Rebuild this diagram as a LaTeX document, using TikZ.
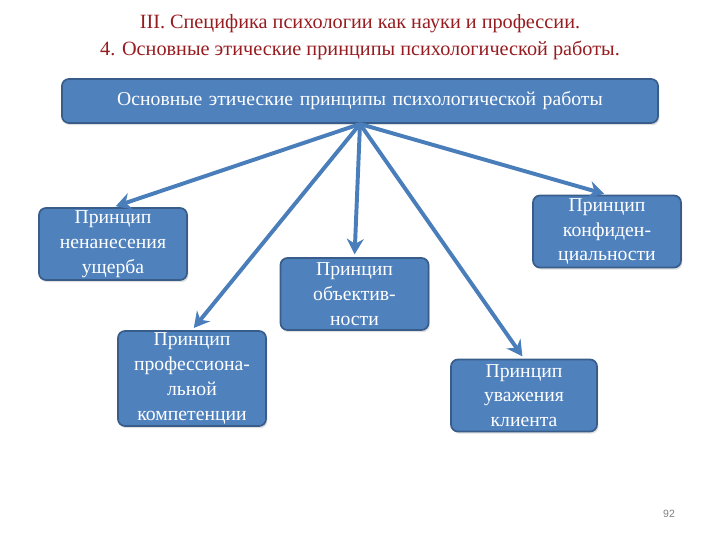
\documentclass[tikz,border=0pt]{standalone}
\usepackage{fontspec}
\setmainfont{Liberation Serif}
\newfontfamily\pagefont{Liberation Sans}
\usetikzlibrary{arrows.meta,positioning,shadows}
\definecolor{titlered}{RGB}{150,28,32}
\definecolor{boxblue}{RGB}{79,129,189}
\definecolor{boxedge}{RGB}{56,93,138}
\definecolor{linkblue}{RGB}{74,126,187}

\tikzset{
  princbox/.style={draw=boxedge,line width=1.2pt,fill=boxblue,rounded corners=5pt,
    text=white,align=center,text width=3.6cm,minimum width=3.7cm,minimum height=1.8cm,
    inner sep=1pt,font=\fontsize{14}{17.6}\selectfont,
    drop shadow={opacity=0.25,shadow xshift=1pt,shadow yshift=-1.5pt}},
  link/.style={linkblue,line width=2.8pt,-{Stealth[length=11pt,width=12pt]},shorten >=2pt}
}

\begin{document}
\begin{tikzpicture}[x=0.025cm,y=-0.025cm]
\useasboundingbox (0,0) rectangle (720,540);
% title
\node[titlered,font=\fontsize{14.4}{19}\selectfont,align=center] (title) at (360,37)
  {III. Специфика психологии как науки и профессии.\\
   4. Основные этические принципы психологической работы.};

% top box
\node[princbox,text width=14.6cm,minimum width=14.9cm,minimum height=1.1cm,
  font=\fontsize{14}{16}\selectfont] (main) at (360,101)
  {Основные этические принципы психологической работы};
\coordinate (hub) at (360,124);

% principles
\node[princbox] (harm) at (113,244) {Принцип\\ ненанесения\\ ущерба};
\node[princbox] (objective) at (354.5,294) {Принцип\\ объектив-\\ ности};
\node[princbox] (confid) at (607,231.5) {Принцип\\ конфиден-\\ циальности};
\node[princbox,minimum height=2.375cm] (compet) at (192,378.5)
  {Принцип\\ профессиона-\\ льной\\ компетенции};
\node[princbox,text width=3.55cm,minimum width=3.65cm] (respect) at (524,395.5)
  {Принцип\\ уважения\\ клиента};

% arrows
\draw[link] (hub) -- (harm.north);
\draw[link] (hub) -- (compet.north);
\draw[link] (hub) -- (objective.north);
\draw[link] (hub) -- (confid.north);
\draw[link] (hub) -- (respect.north);

\node[gray,font=\pagefont\fontsize{7.5}{9}\selectfont] (pagenum) at (669,514) {92};
\end{tikzpicture}
\end{document}
